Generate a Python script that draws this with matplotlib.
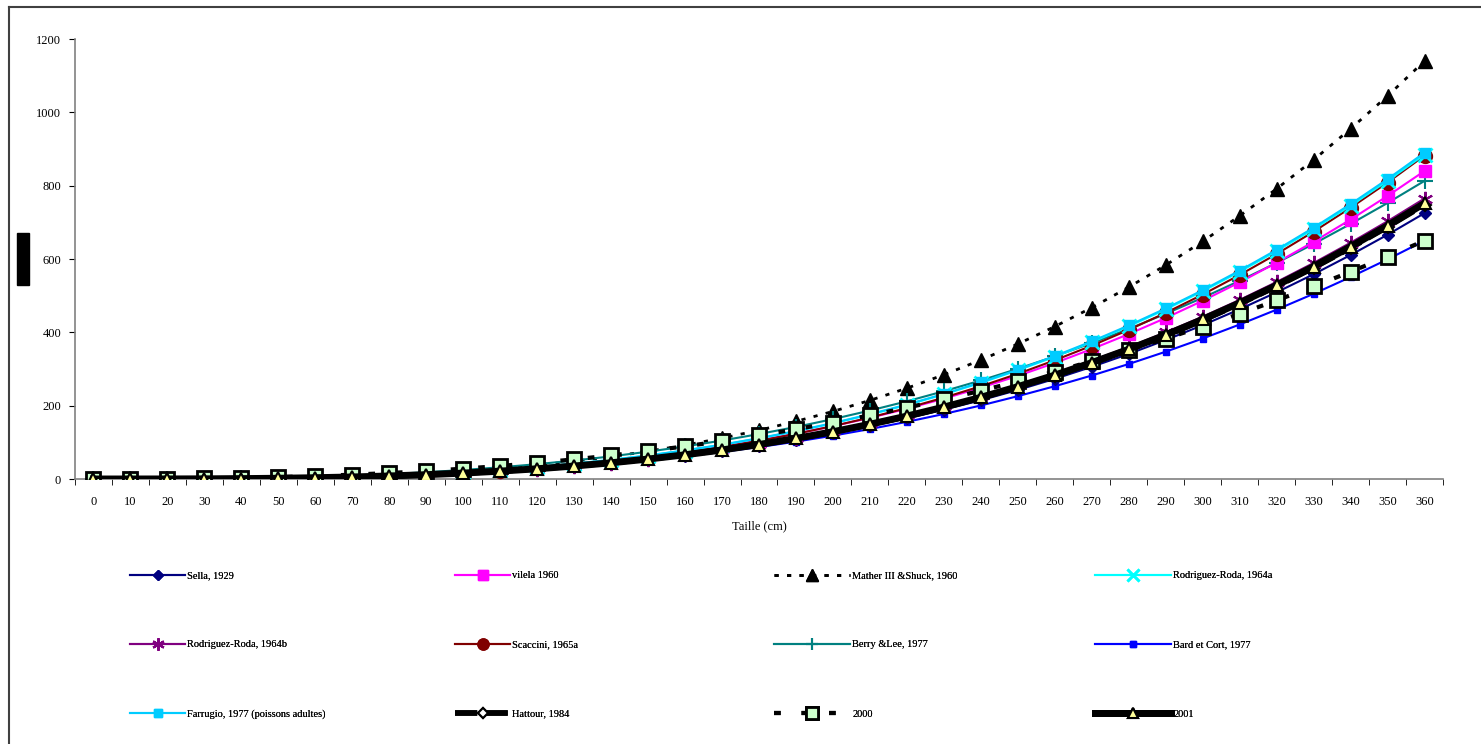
import matplotlib.pyplot as plt
from matplotlib.lines import Line2D
from matplotlib.patches import Rectangle

plt.rcParams['font.family'] = ['Liberation Serif', 'DejaVu Serif']

tailles = list(range(0, 370, 10))

sella = [0, 0.02, 0.12, 0.42, 0.99, 1.94, 3.36, 5.33, 7.96, 11.3, 15.5, 20.7, 26.9, 34.1, 42.6,
         52.4, 63.6, 76.3, 90.6, 106.6, 124.3, 143.9, 165.5, 189.1, 214.8, 242.8, 273.1, 305.9,
         341.1, 379.0, 419.6, 462.9, 509.2, 558.4, 610.8, 666.2, 725]
vilela = [0, 0.02, 0.14, 0.49, 1.15, 2.25, 3.89, 6.18, 9.22, 13.1, 18.0, 24.0, 31.1, 39.6, 49.4,
          60.8, 73.7, 88.5, 105.0, 123.5, 144.0, 166.7, 191.7, 219.1, 248.9, 281.3, 316.4, 354.4,
          395.2, 439.1, 486.1, 536.4, 590.0, 647.0, 707.6, 771.9, 840]
mather = [0, 0.02, 0.15, 0.51, 1.26, 2.5, 4.4, 7.1, 10.8, 15.5, 21.5, 28.9, 37.8, 48.5, 61.0,
          75.6, 92.3, 111.4, 132.9, 157.2, 184.3, 214.4, 247.6, 284.3, 324.5, 368.2, 415.8, 467.3,
          523.1, 583.3, 648.0, 717.5, 791.4, 870.3, 955.1, 1044.6, 1140]
rr_a = [0, 0.02, 0.15, 0.51, 1.21, 2.37, 4.10, 6.51, 9.72, 13.8, 19.0, 25.3, 32.8, 41.7, 52.1,
        64.0, 77.7, 93.2, 110.6, 130.1, 151.7, 175.6, 202.0, 230.8, 262.2, 296.4, 333.4, 373.4,
        416.4, 462.6, 512.2, 565.1, 621.6, 681.7, 745.5, 813.3, 885]
rr_b = [0, 0.02, 0.13, 0.44, 1.05, 2.05, 3.54, 5.62, 8.40, 12.0, 16.4, 21.8, 28.3, 36.0, 45.0,
        55.3, 67.2, 80.6, 95.6, 112.5, 131.2, 151.8, 174.6, 199.5, 226.7, 256.2, 288.2, 322.7,
        359.9, 399.9, 442.7, 488.5, 537.3, 589.2, 644.4, 703.0, 765]
scaccini = [0, 0.01, 0.12, 0.42, 1.02, 2.02, 3.54, 5.69, 8.58, 12.3, 17.1, 22.9, 29.9, 38.3, 48.1,
            59.5, 72.6, 87.5, 104.3, 123.2, 144.3, 167.7, 193.5, 221.9, 253.0, 286.9, 323.8, 363.6,
            406.8, 453.2, 503.1, 556.5, 613.6, 674.6, 739.7, 808.6, 882]
berry = [0, 0.05, 0.30, 0.92, 2.02, 3.71, 6.11, 9.29, 13.4, 18.5, 24.6, 31.9, 40.5, 50.4, 61.7,
         74.5, 88.8, 104.9, 122.6, 142.0, 163.3, 186.7, 211.9, 239.4, 268.8, 300.5, 334.5, 370.7,
         409.4, 450.6, 494.3, 540.6, 589.4, 641.1, 695.6, 752.8, 813]
bard = [0, 0.02, 0.15, 0.48, 1.11, 2.12, 3.60, 5.63, 8.29, 11.7, 15.8, 20.9, 26.9, 33.9, 42.0,
        51.3, 61.9, 73.8, 87.1, 101.9, 118.2, 136.2, 155.9, 177.3, 200.5, 225.9, 253.0, 282.2,
        313.6, 347.2, 383.1, 421.3, 461.9, 505.0, 550.8, 599.0, 650]
farrugio = [0, 0.02, 0.15, 0.52, 1.22, 2.38, 4.12, 6.54, 9.77, 13.9, 19.1, 25.4, 33.0, 41.9, 52.3,
            64.4, 78.1, 93.7, 111.3, 130.8, 152.6, 176.7, 203.1, 232.1, 263.7, 298.1, 335.3, 375.5,
            418.8, 465.2, 515.0, 568.3, 625.1, 685.5, 749.7, 817.9, 890]
hattour = [0, 0.02, 0.13, 0.43, 1.02, 2.0, 3.46, 5.5, 8.2, 11.7, 16.0, 21.3, 27.7, 35.2, 44.0,
           54.1, 65.7, 78.8, 93.5, 110.0, 128.3, 148.5, 170.7, 195.1, 221.6, 250.5, 281.8, 315.6,
           352.0, 391.1, 432.9, 477.8, 525.5, 576.2, 630.2, 687.6, 748]
an2000 = [0, 0.1, 0.55, 1.5, 3.0, 5.2, 8.1, 11.8, 16.3, 21.8, 28.2, 35.6, 44.1, 53.6, 64.3,
          76.1, 89.1, 103.4, 119.0, 135.8, 154.0, 173.6, 194.5, 216.9, 240.8, 266.0, 292.9, 321.2,
          351.2, 382.7, 415.9, 450.6, 487.0, 525.2, 565.1, 606.6, 650]
an2001 = [0, 0.02, 0.13, 0.44, 1.03, 2.01, 3.48, 5.53, 8.25, 11.8, 16.1, 21.5, 27.9, 35.4, 44.2,
          54.4, 66.0, 79.2, 94.0, 110.6, 128.9, 149.3, 171.6, 196.1, 222.8, 251.8, 283.3, 317.3,
          353.8, 393.1, 435.2, 480.2, 528.2, 579.2, 633.5, 691.1, 752]

x = list(range(len(tailles)))
W, H = 1481, 744

fig = plt.figure(figsize=(W / 100, H / 100), dpi=100)
ax = fig.add_axes([75 / W, 1 - 479 / H, 1368 / W, 440 / H])

h = {}
h['Mather'], = ax.plot(x, mather, color='black', lw=2, dashes=(1.5, 3), marker='^', ms=10,
                       mfc='black', mec='black', zorder=3)
h['Bard'], = ax.plot(x, bard, color='#0000FF', lw=1.5, marker='s', ms=5, zorder=3)
h['Sella'], = ax.plot(x, sella, color='#000080', lw=1.5, marker='D', ms=6, zorder=3)
h['Hattour'], = ax.plot(x, hattour, color='black', lw=4, dashes=(4, 1.5), marker='D', ms=6,
                        mfc='white', mec='black', mew=1.5, zorder=3)
h['RRb'], = ax.plot(x, rr_b, color='#800080', lw=1.5, marker=(6, 2, 0), ms=11, mew=1.5, zorder=3)
h['Berry'], = ax.plot(x, berry, color='#008080', lw=1.5, marker='+', ms=11, mew=1.5, zorder=3)
h['vilela'], = ax.plot(x, vilela, color='#FF00FF', lw=1.5, marker='s', ms=9, zorder=3)
h['Scaccini'], = ax.plot(x, scaccini, color='#800000', lw=1.5, marker='o', ms=10, zorder=3)
h['RRa'], = ax.plot(x, rr_a, color='#00FFFF', lw=1.5, marker='x', ms=10, mew=2, zorder=3)
h['Farrugio'], = ax.plot(x, farrugio, color='#00CCFF', lw=1.5, marker='s', ms=7, zorder=3)
h['2000'], = ax.plot(x, an2000, color='black', lw=3, dashes=(1.6, 5), marker='s', ms=10,
                     mfc='#CCFFCC', mec='black', mew=2, zorder=5)
h['2001'], = ax.plot(x, an2001, color='black', lw=5, marker='^', ms=9, mfc='#FFFF99',
                     mec='black', mew=1.5, zorder=6)

ax.set_xlim(-0.5, len(tailles) - 0.5)
ax.set_ylim(0, 1200)
ax.set_xticks(x)
ax.set_xticklabels([str(t) for t in tailles])
ax.set_xticks([i + 0.5 for i in range(-1, len(tailles))], minor=True)
ax.tick_params(axis='x', which='major', length=0, pad=12, labelsize=9)
ax.tick_params(axis='x', which='minor', length=4, direction='out', color='black')
ax.set_yticks(range(0, 1400, 200))
ax.tick_params(axis='y', length=4, direction='out', labelsize=9, pad=6)
for s in ['top', 'right']:
    ax.spines[s].set_visible(False)
for s in ['left', 'bottom']:
    ax.spines[s].set_color('#808080')
    ax.spines[s].set_linewidth(1.2)
ax.set_xlabel('Taille (cm)', fontsize=9, labelpad=9)

# legend: one block per column so each column starts where the original does
labels = {
    'Sella': 'Sella, 1929', 'vilela': 'vilela 1960', 'Mather': 'Mather III &Shuck, 1960',
    'RRa': 'Rodriguez-Roda, 1964a', 'RRb': 'Rodriguez-Roda, 1964b', 'Scaccini': 'Scaccini, 1965a',
    'Berry': 'Berry &Lee, 1977', 'Bard': 'Bard et Cort, 1977',
    'Farrugio': 'Farrugio, 1977 (poissons adultes)', 'Hattour': 'Hattour, 1984',
    '2000': '2000', '2001': '2001',
}
columns = [(['Sella', 'RRb', 'Farrugio'], 130, 5.3),
           (['vilela', 'Scaccini', 'Hattour'], 455, 5.3),
           (['Mather', 'Berry', '2000'], 774, 7.3),
           (['RRa', 'Bard', '2001'], 1095, 7.3)]
for keys, x0, hl in columns:
    leg = fig.legend([h[k] for k in keys], [labels[k] for k in keys], loc='upper left',
                     bbox_to_anchor=(x0 / W, 1 - 571 / H), frameon=False, fontsize=7.5,
                     handlelength=hl, handletextpad=0.2, labelspacing=5.75, borderpad=0,
                     borderaxespad=0, markerscale=0.8)
    fig.add_artist(leg)

# outer frame and masked axis title
fig.add_artist(Line2D([8.5 / W, 8.5 / W], [0, 1 - 7 / H], color='#404040', lw=1.5,
                      transform=fig.transFigure))
fig.add_artist(Line2D([8.5 / W, 1], [1 - 7 / H, 1 - 7 / H], color='#404040', lw=1.5,
                      transform=fig.transFigure))
fig.add_artist(Rectangle((17 / W, 1 - 285 / H), 12 / W, 52 / H, color='black',
                         transform=fig.transFigure))

fig.savefig('out.png', dpi=100)
